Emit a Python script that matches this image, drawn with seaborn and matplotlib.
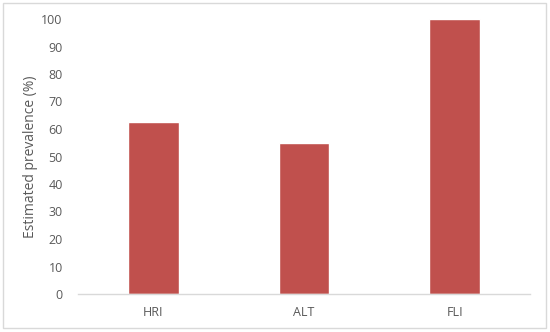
import matplotlib
matplotlib.use('Agg')
import matplotlib.pyplot as plt
from matplotlib.patches import Rectangle
import pandas as pd
import seaborn as sns

# Data
categories = ['HRI', 'ALT', 'FLI']
prevalence = [62.5, 55, 100]

df = pd.DataFrame({'Marker': categories, 'Prevalence': prevalence})

sns.set_style('white')
plt.rcParams['font.family'] = ['Open Sans', 'DejaVu Sans']

text_color = '#595959'

fig = plt.figure(figsize=(5.5, 3.32), dpi=100)
ax = fig.add_axes([78 / 550, 1 - 294 / 332, 452 / 550, 275 / 332])

sns.barplot(data=df, x='Marker', y='Prevalence', color='#C0504D',
            saturation=1, width=0.335, ax=ax)

ax.set_xlim(-0.5, 2.5)
ax.set_ylim(0, 100)
ax.set_yticks(range(0, 101, 10))
ax.set_xlabel('')
ax.set_ylabel('Estimated prevalence (%)', fontsize=10, color=text_color)
ax.yaxis.set_label_coords(-0.088, 0.5)
ax.tick_params(axis='both', length=0, labelsize=9, labelcolor=text_color)
ax.tick_params(axis='y', pad=11)
ax.tick_params(axis='x', pad=9)

for side in ['top', 'right', 'left']:
    ax.spines[side].set_visible(False)
ax.spines['bottom'].set_color('#d9d9d9')
ax.spines['bottom'].set_linewidth(1)

# light frame around the whole chart
fig.add_artist(Rectangle((3 / 550, 4 / 332), 543 / 550, 325 / 332,
                         transform=fig.transFigure, fill=False,
                         edgecolor='#d9d9d9', linewidth=1))

fig.savefig('out.png', dpi=100)
